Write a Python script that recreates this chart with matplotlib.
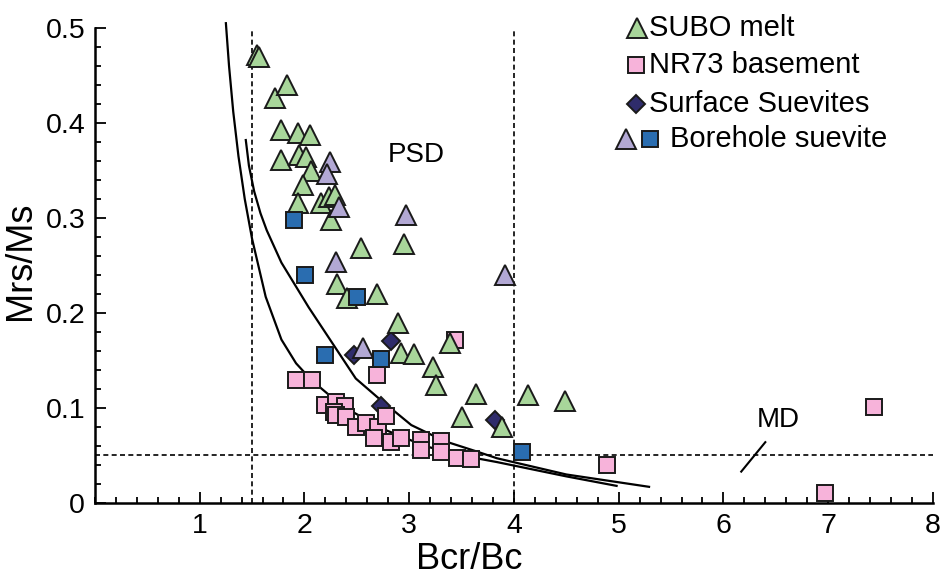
import matplotlib
matplotlib.use("Agg")
import matplotlib.pyplot as plt
from matplotlib.ticker import MultipleLocator

plt.rcParams["font.family"] = ["Liberation Sans", "DejaVu Sans"]

# SUBO melt (green triangles)
subo_x = [1.546, 1.565, 1.717, 1.831, 1.774, 1.935, 2.049, 1.774, 1.945, 2.011,
          2.059, 1.983, 1.935, 2.154, 2.230, 2.296, 2.258, 2.54, 2.95, 2.31,
          2.41, 2.69, 2.89, 2.92, 3.05, 3.23, 3.26, 3.39, 3.64, 4.13,
          4.49, 3.50, 3.89]
subo_y = [0.472, 0.469, 0.426, 0.440, 0.393, 0.389, 0.387, 0.361, 0.366, 0.364,
          0.349, 0.335, 0.316, 0.316, 0.322, 0.324, 0.298, 0.268, 0.273, 0.231,
          0.216, 0.220, 0.189, 0.158, 0.157, 0.143, 0.124, 0.168, 0.115, 0.114,
          0.107, 0.091, 0.080]

# NR73 basement (pink squares)
nr73_x = [1.92, 2.07, 2.69, 3.44, 2.20, 2.30, 2.39, 2.28, 2.30, 2.40,
          2.49, 2.59, 2.70, 2.78, 2.66, 2.83, 2.92, 3.11, 3.11, 3.30,
          3.30, 3.46, 3.59, 4.89, 7.44, 6.97]
nr73_y = [0.129, 0.129, 0.135, 0.172, 0.103, 0.106, 0.102, 0.096, 0.093, 0.091,
          0.080, 0.084, 0.080, 0.092, 0.068, 0.064, 0.068, 0.066, 0.056, 0.065,
          0.054, 0.047, 0.046, 0.040, 0.101, 0.011]

# Surface suevites (navy diamonds)
surf_x = [2.47, 2.83, 2.73, 3.82]
surf_y = [0.156, 0.171, 0.102, 0.087]

# Borehole suevite (lavender triangles, blue squares)
bore_tri_x = [2.24, 2.22, 2.33, 2.97, 2.30, 2.56, 3.91]
bore_tri_y = [0.359, 0.346, 0.312, 0.303, 0.254, 0.163, 0.240]
bore_sq_x = [1.90, 2.01, 2.50, 2.20, 2.73, 4.08]
bore_sq_y = [0.298, 0.240, 0.217, 0.156, 0.152, 0.054]

# SD-MD mixing curves
curve1_x = [1.25, 1.28, 1.32, 1.37, 1.43, 1.50, 1.63, 1.78, 1.92, 2.07,
            2.35, 2.49, 2.77, 3.15, 3.45, 3.84, 4.50, 4.98]
curve1_y = [0.505, 0.460, 0.412, 0.365, 0.320, 0.278, 0.217, 0.172, 0.147, 0.129,
            0.103, 0.094, 0.077, 0.060, 0.051, 0.043, 0.028, 0.018]
curve2_x = [1.44, 1.47, 1.52, 1.58, 1.64, 1.78, 2.04, 2.28, 2.49, 2.70,
            3.02, 3.34, 3.65, 3.84, 4.50, 5.29]
curve2_y = [0.382, 0.355, 0.328, 0.305, 0.287, 0.253, 0.206, 0.166, 0.131, 0.111,
            0.082, 0.065, 0.054, 0.047, 0.030, 0.017]

green = "#a8d69a"
pink = "#f7b3da"
navy = "#2f2c6b"
lavender = "#b2a8d4"
blue = "#2a6db0"

fig = plt.figure(figsize=(9.43, 5.81), dpi=100)
ax = fig.add_axes([0.1007, 0.1343, 0.8886, 0.8176])

ax.plot(curve1_x, curve1_y, color="black", lw=1.6, zorder=2, clip_on=False)
ax.plot(curve2_x, curve2_y, color="black", lw=1.6, zorder=2, clip_on=False)

dash = (0, (3, 2))
ax.axvline(1.5, color="black", lw=1.2, ls=dash, zorder=1)
ax.axvline(4.0, color="black", lw=1.2, ls=dash, zorder=1)
ax.axhline(0.05, color="black", lw=1.2, ls=dash, zorder=1)

mk = dict(ls="none", markeredgecolor="#1a1a1a", markeredgewidth=1.4, clip_on=False)
ax.plot(surf_x, surf_y, "D", ms=9, color=navy, zorder=3, **mk)
ax.plot(nr73_x, nr73_y, "s", ms=12, color=pink, zorder=4, **mk)
ax.plot(subo_x, subo_y, "^", ms=14, color=green, zorder=5, **mk)
ax.plot(bore_tri_x, bore_tri_y, "^", ms=14, color=lavender, zorder=6, **mk)
ax.plot(bore_sq_x, bore_sq_y, "s", ms=12, color=blue, zorder=7, **mk)

ax.text(3.07, 0.366, "PSD", fontsize=20, ha="center", va="center")
ax.text(6.52, 0.087, "MD", fontsize=20, ha="center", va="center")
ax.plot([6.17, 6.40], [0.033, 0.064], color="black", lw=1.5)

# legend drawn by hand
tr = ax.transAxes
lg = dict(transform=tr, clip_on=False, ls="none", markeredgecolor="#1a1a1a",
          markeredgewidth=1.4)
ax.plot(0.647, 1.0, "^", ms=14, color=green, **lg)
ax.plot(0.646, 0.922, "s", ms=12, color=pink, **lg)
ax.plot(0.646, 0.840, "D", ms=9, color=navy, **lg)
ax.plot(0.634, 0.766, "^", ms=14, color=lavender, **lg)
ax.plot(0.662, 0.766, "s", ms=12, color=blue, **lg)
ax.text(0.661, 1.0, "SUBO melt", transform=tr, fontsize=21, va="center")
ax.text(0.661, 0.922, "NR73 basement", transform=tr, fontsize=21, va="center")
ax.text(0.661, 0.840, "Surface Suevites", transform=tr, fontsize=21, va="center")
ax.text(0.686, 0.766, "Borehole suevite", transform=tr, fontsize=21, va="center")

ax.set_xlim(0, 8)
ax.set_ylim(0, 0.5)
ax.set_xticks([1, 2, 3, 4, 5, 6, 7, 8])
ax.set_yticks([0, 0.1, 0.2, 0.3, 0.4, 0.5])
ax.set_yticklabels(["0", "0.1", "0.2", "0.3", "0.4", "0.5"])
ax.xaxis.set_minor_locator(MultipleLocator(0.2))
ax.yaxis.set_minor_locator(MultipleLocator(0.02))
ax.tick_params(which="both", direction="in", width=1.3, labelsize=20.5)
ax.tick_params(which="major", length=8, pad=7)
ax.tick_params(which="minor", length=4.5)
for s in ["top", "right"]:
    ax.spines[s].set_visible(False)
for s in ["left", "bottom"]:
    ax.spines[s].set_linewidth(1.8)

ax.set_xlabel("Bcr/Bc", fontsize=26)
ax.set_ylabel("Mrs/Ms", fontsize=26)
ax.xaxis.set_label_coords(0.447, -0.082)
ax.yaxis.set_label_coords(-0.068, 0.51)

fig.savefig("out.png", dpi=100)
